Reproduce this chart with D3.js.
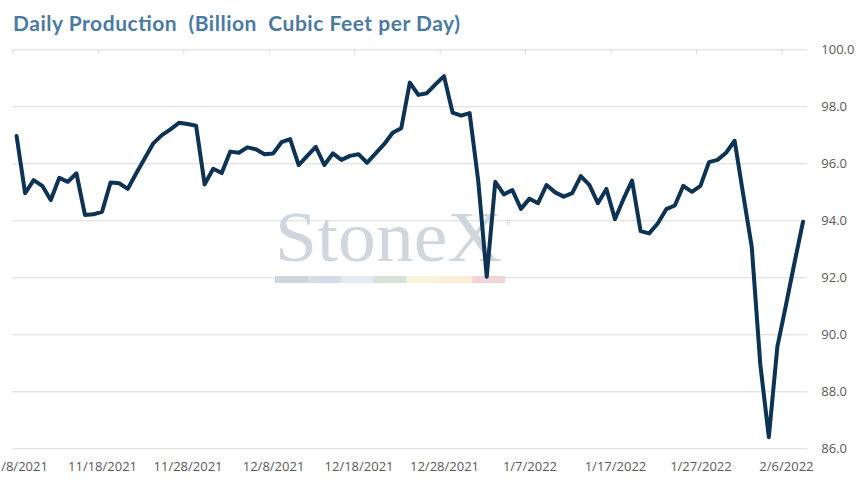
<!DOCTYPE html>
<html>
<head>
<meta charset="utf-8">
<script src="https://cdn.jsdelivr.net/npm/d3@7"></script>
<style>
  html, body { margin: 0; padding: 0; background: #ffffff; }
  svg { display: block; }
</style>
</head>
<body>
<svg id="chart" width="857" height="480"></svg>
<script>
// ---- data ----
const chartTitle = "Daily Production\u00a0\u00a0(Billion\u00a0\u00a0Cubic Feet per Day)";
const startDate = "2021-11-08";
const production = [
  96.96, 94.95, 95.41, 95.21, 94.71, 95.49, 95.35, 95.65, 94.19, 94.21,
  94.30, 95.33, 95.30, 95.10, 95.65, 96.18, 96.70, 96.99, 97.19, 97.42,
  97.38, 97.32, 95.26, 95.81, 95.66, 96.41, 96.37, 96.56, 96.49, 96.32,
  96.34, 96.74, 96.85, 95.94, 96.26, 96.58, 95.94, 96.35, 96.12, 96.26,
  96.32, 96.02, 96.35, 96.67, 97.07, 97.23, 98.83, 98.40, 98.46, 98.77,
  99.06, 97.78, 97.67, 97.76, 95.40, 92.02, 95.35, 94.91, 95.06, 94.40,
  94.76, 94.60, 95.24, 94.98, 94.83, 94.95, 95.55, 95.24, 94.60, 95.10,
  94.04, 94.75, 95.39, 93.62, 93.54, 93.89, 94.39, 94.52, 95.21, 95.00,
  95.21, 96.04, 96.12, 96.37, 96.79, 94.91, 93.07, 88.95, 86.39, 89.57,
  91.02, 92.51, 93.95
];
const yTicks = [86, 88, 90, 92, 94, 96, 98, 100];
const xTickEvery = 10;
const watermarkText = "StoneX";
const watermarkBarColors = ["#cdd5dd", "#d5dee8", "#e2ebf3", "#d4e2d9", "#f7f4db", "#fbedd6", "#f1d4d7"];

(function () {
// ---- setup ----
const svg = d3.select("#chart");
const parse = d3.timeParse("%Y-%m-%d");
const d0 = parse(startDate);
const dates = production.map((_, i) => d3.timeDay.offset(d0, i));
const fmt = d => `${d.getMonth() + 1}/${d.getDate()}/${d.getFullYear()}`;

const mLeft = 12.3, mRight = 807.3, mTop = 49.3, mBottom = 448.3;
const x = d3.scaleLinear().domain([-0.5, production.length - 0.5]).range([mLeft, mRight]);
const y = d3.scaleLinear().domain([86, 100]).range([mBottom, mTop]);

// title
svg.append("text")
  .attr("x", 13).attr("y", 31)
  .attr("font-family", "Lato, 'Open Sans', sans-serif")
  .attr("font-weight", 700)
  .attr("font-size", 21)
  .attr("fill", "#4a7aa2")
  .attr("textLength", 447)
  .attr("lengthAdjust", "spacing")
  .text(chartTitle);

// y gridlines + labels
const yAxis = svg.append("g")
  .attr("transform", `translate(${mRight},0)`)
  .call(d3.axisRight(y).tickValues(yTicks).tickSize(-(mRight - mLeft)).tickPadding(14).tickFormat(d3.format(".1f")));
yAxis.select(".domain").remove();
yAxis.selectAll(".tick line").attr("stroke", "#d9d9d9").attr("stroke-width", 1);
yAxis.selectAll(".tick text")
  .attr("fill", "#595959")
  .attr("font-family", "'Open Sans', sans-serif")
  .attr("font-size", 13);

// top tick marks (category boundaries)
const tickIdx = production.map((_, i) => i).filter(i => i % xTickEvery === 0);
const topTicks = svg.append("g")
  .attr("transform", `translate(0,${mTop})`)
  .call(d3.axisBottom(x).tickValues(tickIdx.map(i => i - 0.5)).tickSize(5).tickFormat(""));
topTicks.select(".domain").remove();
topTicks.selectAll(".tick line").attr("stroke", "#d9d9d9");

// bottom labels
const xAxis = svg.append("g")
  .attr("transform", `translate(0,${mBottom})`)
  .call(d3.axisBottom(x).tickValues(tickIdx).tickSize(0).tickPadding(13).tickFormat(i => fmt(dates[i])));
xAxis.select(".domain").remove();
xAxis.selectAll(".tick text")
  .attr("fill", "#595959")
  .attr("font-family", "'Open Sans', sans-serif")
  .attr("font-size", 13);

// watermark
const wm = svg.append("g").attr("pointer-events", "none");
wm.append("text")
  .attr("x", 275).attr("y", 261)
  .attr("font-family", "'Liberation Serif', 'DejaVu Serif', serif")
  .attr("font-size", 72)
  .attr("fill", "#cfd6de")
  .attr("textLength", 227)
  .attr("lengthAdjust", "spacingAndGlyphs")
  .text(watermarkText);
wm.append("text")
  .attr("x", 505).attr("y", 226)
  .attr("font-family", "'Liberation Sans', sans-serif")
  .attr("font-size", 9)
  .attr("fill", "#cfd6de")
  .text("\u00ae");
const segW = (505 - 275) / watermarkBarColors.length;
wm.selectAll("rect").data(watermarkBarColors).join("rect")
  .attr("x", (c, i) => 275 + i * segW)
  .attr("y", 276)
  .attr("width", segW + 0.3)
  .attr("height", 7)
  .attr("fill", c => c);

// line
const line = d3.line().x((d, i) => x(i)).y(d => y(d));
svg.append("path")
  .datum(production)
  .attr("fill", "none")
  .attr("stroke", "#0c3254")
  .attr("stroke-width", 4)
  .attr("stroke-linejoin", "round")
  .attr("stroke-linecap", "round")
  .attr("d", line);
})();
</script>
</body>
</html>
